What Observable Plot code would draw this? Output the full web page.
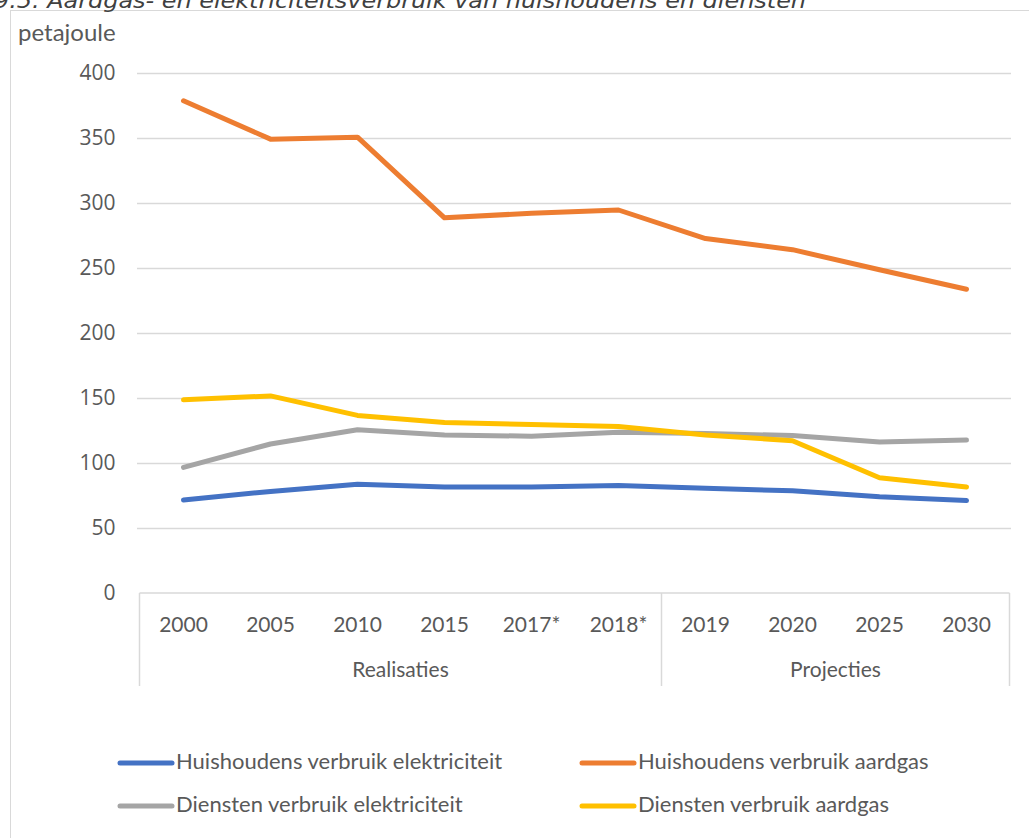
<!DOCTYPE html>
<html>
<head>
<meta charset="utf-8">
<script src="https://cdn.jsdelivr.net/npm/d3@7"></script>
<script src="https://cdn.jsdelivr.net/npm/@observablehq/plot@0.6"></script>
<style>
  body { margin: 0; background: #fff; overflow: hidden; }
  #wrap { position: relative; width: 1029px; height: 838px; overflow: hidden; background: #fff; font-family: Lato, "Open Sans", sans-serif; color: #595959; }
  #frame { position: absolute; left: 10px; top: 10px; width: 1040px; height: 850px; border-top: 1.5px solid #d9d9d9; border-left: 1.5px solid #d9d9d9; box-sizing: border-box; }
  #title { position: absolute; left: 0; top: 0; }
  #unit { position: absolute; left: 18px; top: 17px; font-size: 24px; line-height: 30px; }
  #chart { position: absolute; left: 0; top: 0; }
  #legend { position: absolute; left: 0; top: 0; width: 1029px; height: 838px; }
</style>
</head>
<body>
<div id="wrap">
  <div id="frame"></div>
  <svg id="title" width="1029" height="20"><text x="-6" y="8" font-family="DejaVu Sans, sans-serif" font-style="italic" font-size="22" fill="#404040" textLength="812" lengthAdjust="spacingAndGlyphs">9.5. Aardgas- en elektriciteitsverbruik van huishoudens en diensten</text></svg>
  <div id="unit">petajoule</div>
  <div id="chart"></div>
  <svg id="legend" width="1029" height="838"></svg>
</div>
<script>
// ---- data ----
const categories = ["2000", "2005", "2010", "2015", "2017*", "2018*", "2019", "2020", "2025", "2030"];
const huishoudensElektriciteit = [72, 78.5, 84, 82, 82, 83, 81, 79, 74.5, 71.5];
const huishoudensAardgas = [379, 349.5, 351, 289, 292.5, 295, 273, 264.5, 249, 234];
const dienstenElektriciteit = [97, 115, 126, 122, 121, 124, 123, 121.5, 116.5, 118];
const dienstenAardgas = [149, 152, 137, 131.5, 130, 128.5, 122, 117.5, 89, 82];
const seriesNames = ["Huishoudens verbruik elektriciteit", "Huishoudens verbruik aardgas", "Diensten verbruik elektriciteit", "Diensten verbruik aardgas"];
const seriesValues = [huishoudensElektriciteit, huishoudensAardgas, dienstenElektriciteit, dienstenAardgas];
const seriesColors = ["#4472C4", "#ED7D31", "#A5A5A5", "#FFC000"];
const yTicks = [0, 50, 100, 150, 200, 250, 300, 350, 400];
const groups = [
  {label: "Realisaties", from: "2000", to: "2018*"},
  {label: "Projecties", from: "2019", to: "2030"}
];
const unitLabel = "petajoule";

// long table for the library
const rows = [];
seriesNames.forEach((name, s) => {
  categories.forEach((c, i) => rows.push({series: name, category: c, value: seriesValues[s][i]}));
});

const textColor = "#595959";
const gridColor = "#d9d9d9";

function categoryTable(index, scales, values, dimensions) {
  const x = scales.x;
  const step = x(categories[1]) - x(categories[0]);
  const y0 = dimensions.height - dimensions.marginBottom;
  const g = d3.create("svg:g");
  const left = x(categories[0]) - step / 2;
  const edges = [left, ...groups.map(gr => x(gr.to) + step / 2)];
  g.append("line")
    .attr("x1", left).attr("x2", edges[edges.length - 1])
    .attr("y1", y0).attr("y2", y0)
    .attr("stroke", gridColor).attr("stroke-width", 1.5);
  edges.forEach(e => g.append("line")
    .attr("x1", e).attr("x2", e).attr("y1", y0).attr("y2", y0 + 93)
    .attr("stroke", gridColor).attr("stroke-width", 1.5));
  groups.forEach(gr => {
    g.append("text")
      .attr("x", (x(gr.from) + x(gr.to)) / 2)
      .attr("y", y0 + 79)
      .attr("text-anchor", "middle")
      .attr("dominant-baseline", "middle")
      .attr("fill", textColor)
      .attr("font-family", "Lato, sans-serif")
      .attr("font-size", 21)
      .text(gr.label);
  });
  return g.node();
}

const chart = Plot.plot({
  width: 1029,
  height: 700,
  marginTop: 73,
  marginBottom: 107,
  marginLeft: 137,
  marginRight: 18,
  style: {background: "transparent", overflow: "visible", fontFamily: "Lato, sans-serif", color: textColor},
  x: {type: "point", domain: categories, padding: 0.5, axis: null},
  y: {domain: [0, 400], axis: null},
  color: {domain: seriesNames, range: seriesColors},
  marks: [
    Plot.ruleY(yTicks.filter(d => d > 0), {stroke: gridColor, strokeWidth: 1.5}),
    Plot.text(yTicks, {y: d => d, frameAnchor: "left", dx: -22, textAnchor: "end", fill: textColor, fontSize: 21, fontFamily: "Open Sans, sans-serif"}),
    categoryTable,
    Plot.text(categories, {x: d => d, frameAnchor: "bottom", dy: 38, fill: textColor, fontSize: 21, fontFamily: "Lato, sans-serif"}),
    Plot.line(rows, {x: "category", y: "value", z: "series", stroke: "series", strokeWidth: 5, strokeLinecap: "round", strokeLinejoin: "round"})
  ]
});
document.getElementById("chart").appendChild(chart);

// legend
const legend = d3.select("#legend");
const legendPos = [
  {x: 118, y: 763}, {x: 580, y: 763},
  {x: 118, y: 806}, {x: 580, y: 806}
];
seriesNames.forEach((name, i) => {
  const p = legendPos[i];
  legend.append("line")
    .attr("x1", p.x + 2).attr("x2", p.x + 54)
    .attr("y1", p.y).attr("y2", p.y)
    .attr("stroke", seriesColors[i]).attr("stroke-width", 5).attr("stroke-linecap", "round");
  legend.append("text")
    .attr("x", p.x + 58).attr("y", p.y)
    .attr("dominant-baseline", "middle")
    .attr("fill", textColor)
    .attr("font-family", "Lato, sans-serif")
    .attr("font-size", 22)
    .text(name);
});
document.getElementById("unit").textContent = unitLabel;
</script>
</body>
</html>
